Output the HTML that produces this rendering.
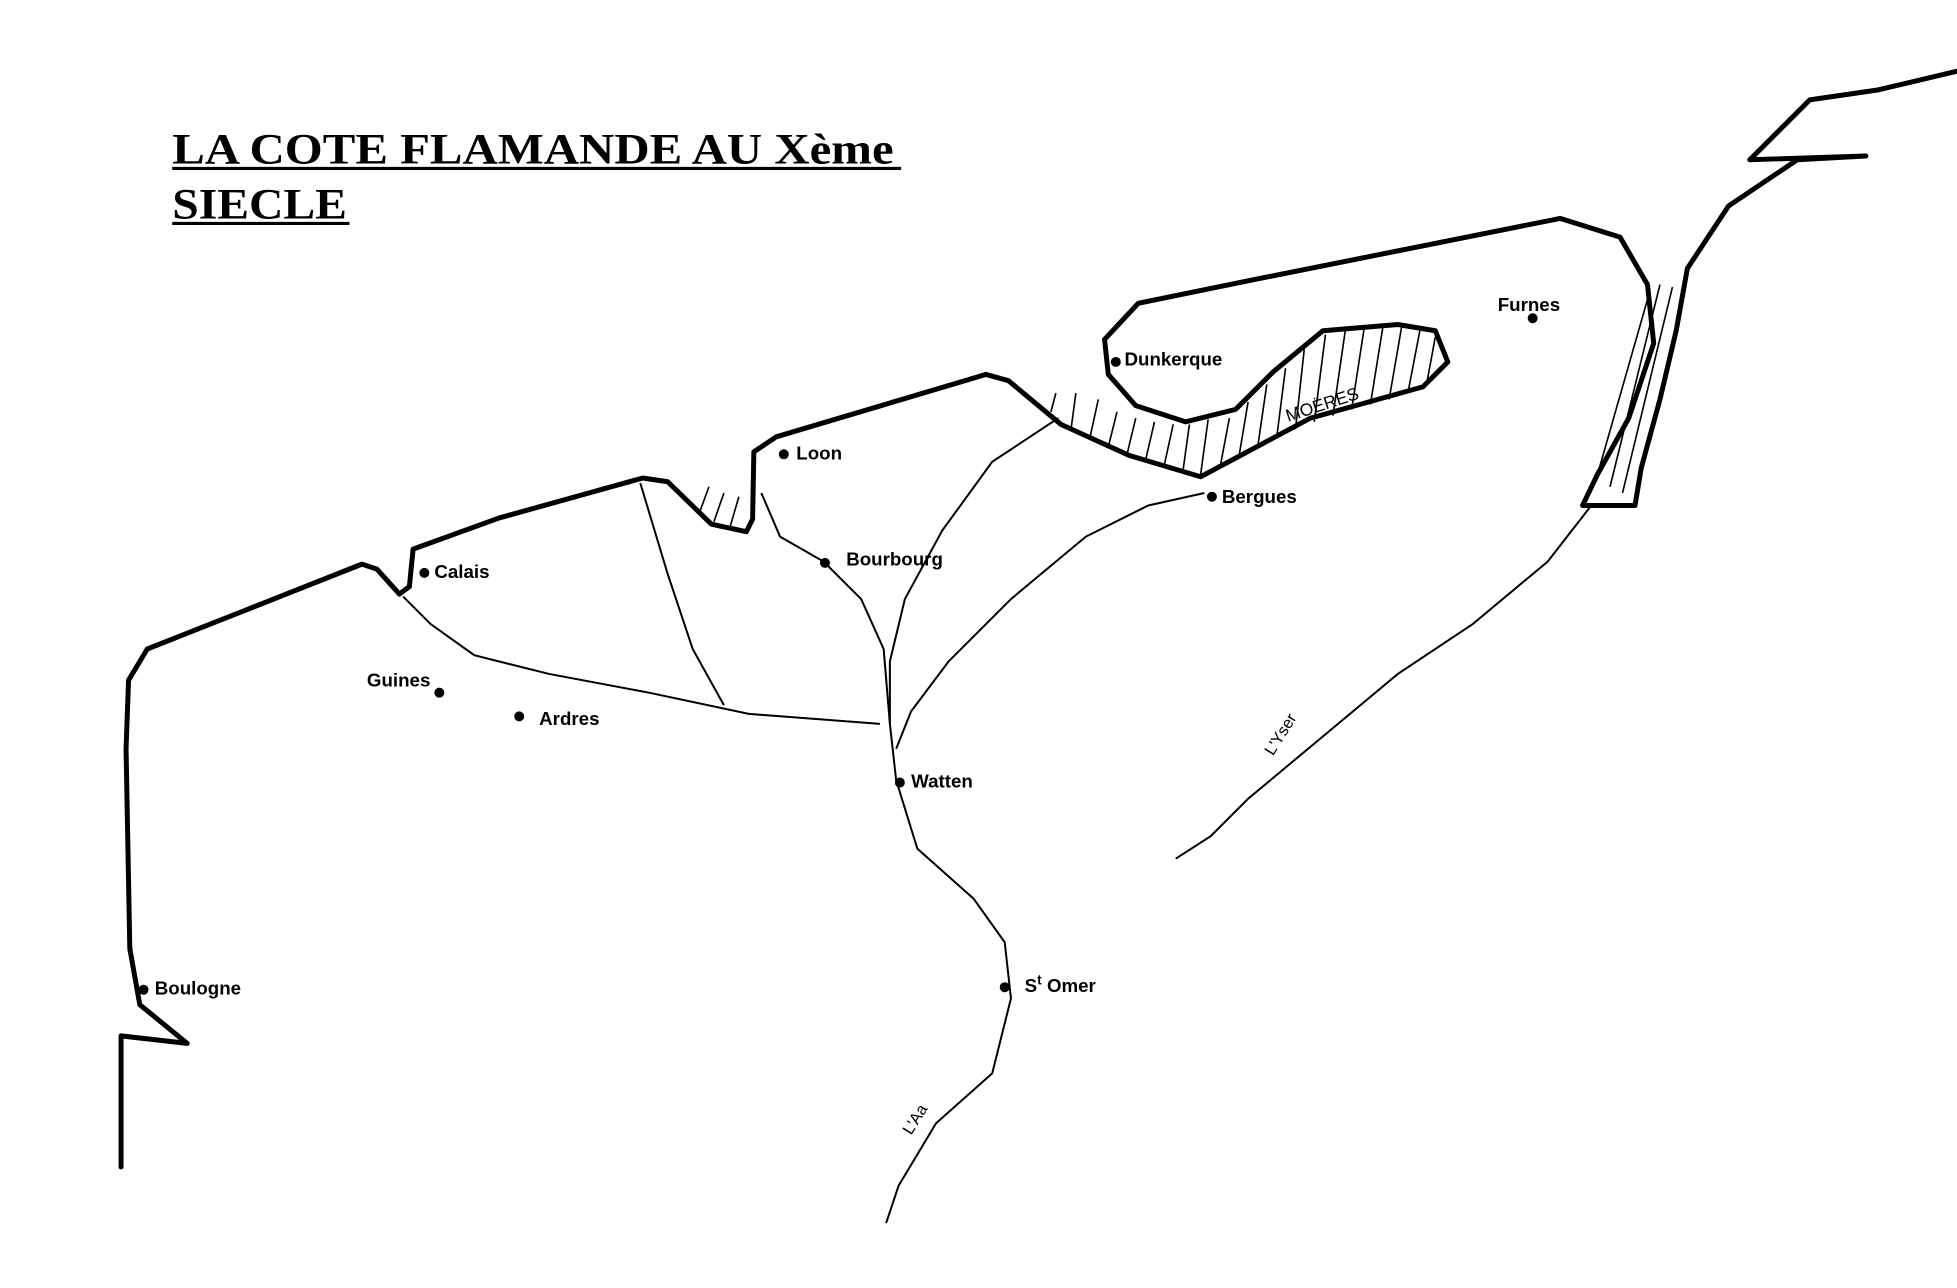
<!DOCTYPE html>
<html><head><meta charset="utf-8"><style>
html,body{margin:0;padding:0;background:#fff;}
svg{display:block;}
text{font-family:"Liberation Sans",sans-serif;font-weight:bold;font-size:15px;fill:#000;}
.t{font-family:"Liberation Serif",serif;font-size:35px;}
</style></head><body>
<svg width="1957" height="1288" viewBox="0 0 1568 1032" preserveAspectRatio="none" xmlns="http://www.w3.org/2000/svg">
<text class="t" x="138" y="131" textLength="578" lengthAdjust="spacingAndGlyphs">LA COTE FLAMANDE AU Xème</text>
<text class="t" x="138" y="175" textLength="140" lengthAdjust="spacingAndGlyphs">SIECLE</text>
<line x1="138" y1="135" x2="722" y2="135" stroke="#000" stroke-width="2.5"/>
<line x1="138" y1="179" x2="280" y2="179" stroke="#000" stroke-width="2.5"/>
<g fill="none" stroke="#000" stroke-width="4" stroke-linejoin="round" stroke-linecap="round">
<path d="M97,935 L97,830 L150,836 L112,805 L104,760 L101,600 L103,545 L118,520 L290,452 L302,456 L320,476 L328,470 L331,440 L400,415 L515,383 L535,386 L570,420 L598,426 L603,416 L604,362 L622,350 L790,300 L808,305 L850,340 L905,365 L962,382 L1050,335 L1140,310 L1160,290 L1150,265 L1120,260 L1060,265 L1020,298 L990,328 L950,338 L910,325 L888,300 L885,272 L912,243 L1000,225 L1250,175 L1298,190 L1320,228 L1325,275 L1305,335 L1280,380 L1268,405 L1310,405 L1315,375 L1330,320 L1343,265 L1352,215 L1385,165 L1440,128 L1495,125 L1402,128 L1450,80 L1505,72 L1568,57"/>
</g>
<g fill="none" stroke="#000" stroke-width="1.6">
<path d="M323,478 L345,500 L380,525 L440,540 L520,555 L600,572 L705,580"/>
<path d="M513,387 L535,460 L555,520 L580,565"/>
<path d="M610,395 L625,430 L660,450 L690,480 L708,520 L713,580 L718,625 L735,680 L780,720 L805,755 L810,800 L795,860 L750,900 L720,950 L710,980"/>
<path d="M848,335 L795,370 L755,425 L725,480 L713,530 L713,580"/>
<path d="M965,395 L920,405 L870,430 L810,480 L760,530 L730,570 L718,600"/>
<path d="M1275,405 L1240,450 L1180,500 L1120,540 L1060,590 L1000,640 L970,670 L942,688"/>
</g>
<g stroke="#000" stroke-width="1.3">
<line x1="560" y1="412" x2="568" y2="390"/><line x1="572" y1="418" x2="580" y2="395"/><line x1="585" y1="422" x2="592" y2="398"/>
<line x1="842" y1="330" x2="846" y2="315"/><line x1="858" y1="345" x2="862" y2="315"/><line x1="873" y1="352" x2="880" y2="320"/>
<line x1="888" y1="358" x2="895" y2="330"/><line x1="903" y1="364" x2="910" y2="335"/><line x1="918" y1="368" x2="925" y2="338"/>
<line x1="933" y1="372" x2="940" y2="340"/><line x1="948" y1="376" x2="953" y2="340"/><line x1="962" y1="380" x2="968" y2="336"/>
<line x1="978" y1="372" x2="985" y2="335"/><line x1="993" y1="364" x2="1000" y2="322"/><line x1="1008" y1="356" x2="1015" y2="308"/>
<line x1="1023" y1="350" x2="1030" y2="295"/><line x1="1038" y1="344" x2="1045" y2="280"/><line x1="1053" y1="338" x2="1062" y2="268"/>
<line x1="1068" y1="333" x2="1078" y2="264"/><line x1="1083" y1="328" x2="1093" y2="263"/><line x1="1098" y1="324" x2="1108" y2="262"/>
<line x1="1113" y1="320" x2="1123" y2="262"/><line x1="1128" y1="315" x2="1138" y2="263"/><line x1="1143" y1="308" x2="1150" y2="270"/>
<line x1="1290" y1="390" x2="1330" y2="228"/><line x1="1300" y1="395" x2="1340" y2="230"/><line x1="1280" y1="380" x2="1320" y2="240"/>
</g>
<text x="1032" y="338" transform="rotate(-18 1032 338)" style="font-size:14px;font-weight:normal">MOËRES</text>
<g fill="#000">
<circle cx="628" cy="364" r="4"/><circle cx="340" cy="459" r="4"/><circle cx="661" cy="451" r="4"/>
<circle cx="894" cy="290" r="4"/><circle cx="971" cy="398" r="4"/><circle cx="1228" cy="255" r="4"/>
<circle cx="352" cy="555" r="4"/><circle cx="416" cy="574" r="4"/><circle cx="721" cy="627" r="4"/>
<circle cx="805" cy="791" r="4"/><circle cx="115" cy="793" r="4"/>
</g>
<text x="638" y="368">Loon</text>
<text x="348" y="463">Calais</text>
<text x="678" y="453">Bourbourg</text>
<text x="901" y="293">Dunkerque</text>
<text x="979" y="403">Bergues</text>
<text x="1200" y="249">Furnes</text>
<text x="294" y="550">Guines</text>
<text x="432" y="581">Ardres</text>
<text x="730" y="631">Watten</text>
<text x="821" y="795">S<tspan dy="-6" style="font-size:11px">t</tspan><tspan dy="6"> Omer</tspan></text>
<text x="124" y="797">Boulogne</text>
<text x="1020" y="606" transform="rotate(-58 1020 606)" style="font-size:13px;font-weight:normal">L'Yser</text>
<text x="730" y="910" transform="rotate(-58 730 910)" style="font-size:13px;font-weight:normal">L'Aa</text>
</svg>
</body></html>
